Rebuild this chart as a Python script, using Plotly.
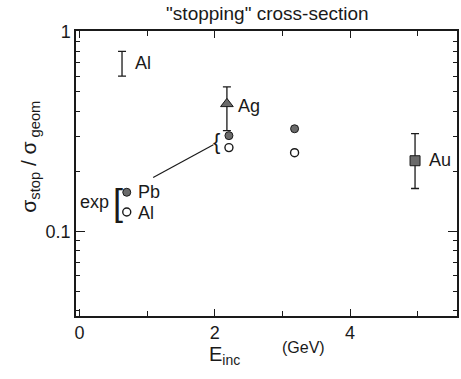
import plotly.graph_objects as go
import math

title_text = '"stopping" cross-section'

# filled circles (Pb) and open circles (Al), experiment
e_pb = [0.70, 2.21, 3.18]
s_pb = [0.157, 0.302, 0.327]
e_al = [0.70, 2.21, 3.18]
s_al = [0.125, 0.263, 0.248]

# Ag (triangle) with error bar
e_ag = [2.18]
s_ag = [0.436]
ag_up = [0.094]
ag_dn = [0.116]

# Au (square) with error bar
e_au = [4.96]
s_au = [0.226]
au_up = [0.083]
au_dn = [0.062]

# Al bracket at top-left
e_alx = [0.63]
s_alx = [0.70]
alx_up = [0.10]
alx_dn = [0.10]

# connecting line from legend to the 2.2 GeV points
link_e = [1.09, 1.98]
link_s = [0.186, 0.272]

x_ticks = [0, 2, 4]
x_minor = [1, 3, 5]
y_ticks = [0.1, 1]
y_minor = [0.04, 0.05, 0.06, 0.07, 0.08, 0.09, 0.2, 0.3, 0.4, 0.5, 0.6, 0.7, 0.8, 0.9]

FONT = "Liberation Sans, Arial, sans-serif"
INK = "#1a1a1a"
GREY = "#6a6a6a"

fig = go.Figure()

fig.add_trace(go.Scatter(x=link_e, y=link_s, mode="lines",
                         line=dict(color=INK, width=1.2), showlegend=False))

fig.add_trace(go.Scatter(x=e_alx, y=s_alx, mode="markers",
                         marker=dict(symbol="line-ns", size=1, color=INK, line=dict(width=0)),
                         error_y=dict(type="data", symmetric=False, array=alx_up, arrayminus=alx_dn,
                                      color=INK, thickness=1.3, width=4),
                         showlegend=False))

fig.add_trace(go.Scatter(x=e_ag, y=s_ag, mode="markers",
                         marker=dict(symbol="triangle-up", size=11, color=GREY, line=dict(color=INK, width=1)),
                         error_y=dict(type="data", symmetric=False, array=ag_up, arrayminus=ag_dn,
                                      color=INK, thickness=1.3, width=4),
                         showlegend=False))

fig.add_trace(go.Scatter(x=e_au, y=s_au, mode="markers",
                         marker=dict(symbol="square", size=10, color=GREY, line=dict(color=INK, width=1)),
                         error_y=dict(type="data", symmetric=False, array=au_up, arrayminus=au_dn,
                                      color=INK, thickness=1.3, width=4),
                         showlegend=False))

fig.add_trace(go.Scatter(x=e_pb, y=s_pb, mode="markers",
                         marker=dict(symbol="circle", size=8, color=GREY, line=dict(color=INK, width=1)),
                         showlegend=False))
fig.add_trace(go.Scatter(x=e_al, y=s_al, mode="markers",
                         marker=dict(symbol="circle", size=8, color="white", line=dict(color=INK, width=1.4)),
                         showlegend=False))

def lab(text, x, y, size=18, xanchor="left"):
    fig.add_annotation(text=text, x=x, y=math.log10(y), xref="x", yref="y",
                       showarrow=False, xanchor=xanchor, yanchor="middle",
                       font=dict(family=FONT, size=size, color=INK))

lab("Al", 0.79, 0.70)
lab("Ag", 2.32, 0.427)
lab("Pb", 0.835, 0.158)
lab("Al", 0.835, 0.124)
lab("exp", 0.47, 0.140, xanchor="right")
lab("[", 0.57, 0.140, size=36, xanchor="center")
lab("{", 2.03, 0.282, size=22, xanchor="center")
lab("Au", 5.13, 0.229)

fig.add_annotation(text="σ<sub>stop</sub> / σ<sub> geom</sub>", xref="paper", yref="paper",
                   x=-0.12, y=0.56, textangle=-90, showarrow=False,
                   xanchor="center", yanchor="middle",
                   font=dict(family=FONT, size=21, color=INK))
fig.add_annotation(text="E<sub>inc</sub>", xref="paper", yref="paper",
                   x=0.39, y=-0.088, showarrow=False, xanchor="center", yanchor="top",
                   font=dict(family=FONT, size=20, color=INK))
fig.add_annotation(text="(GeV)", xref="paper", yref="paper",
                   x=0.598, y=-0.112, showarrow=False, xanchor="center", yanchor="middle",
                   font=dict(family=FONT, size=16, color=INK))

axis_common = dict(showline=True, linecolor=INK, linewidth=1.5, mirror="ticks",
                   ticks="inside", tickcolor=INK, tickwidth=1.3, showgrid=False, zeroline=False,
                   tickfont=dict(family=FONT, size=18, color=INK))

fig.update_xaxes(range=[-0.05, 5.58], tickmode="array", tickvals=x_ticks,
                 ticktext=[str(v) for v in x_ticks], ticklen=7,
                 minor=dict(tickmode="array", tickvals=x_minor, ticks="inside", ticklen=5,
                            tickcolor=INK, tickwidth=1.2, showgrid=False),
                 **axis_common)
fig.update_yaxes(type="log", range=[-1.425, 0.005], tickmode="array", tickvals=y_ticks,
                 ticktext=["0.1", "1"], ticklen=9,
                 minor=dict(tickmode="array", tickvals=y_minor, ticks="inside", ticklen=4,
                            tickcolor=INK, tickwidth=1.2, showgrid=False),
                 **axis_common)

fig.update_layout(
    width=461, height=379,
    margin=dict(l=76, r=2, t=31, b=63),
    paper_bgcolor="white", plot_bgcolor="white",
    title=dict(text=title_text, x=0.58, xanchor="center", y=1 - 13 / 379, yanchor="middle",
               yref="container", font=dict(family=FONT, size=19, color=INK)),
)

fig.write_html("out.html")
